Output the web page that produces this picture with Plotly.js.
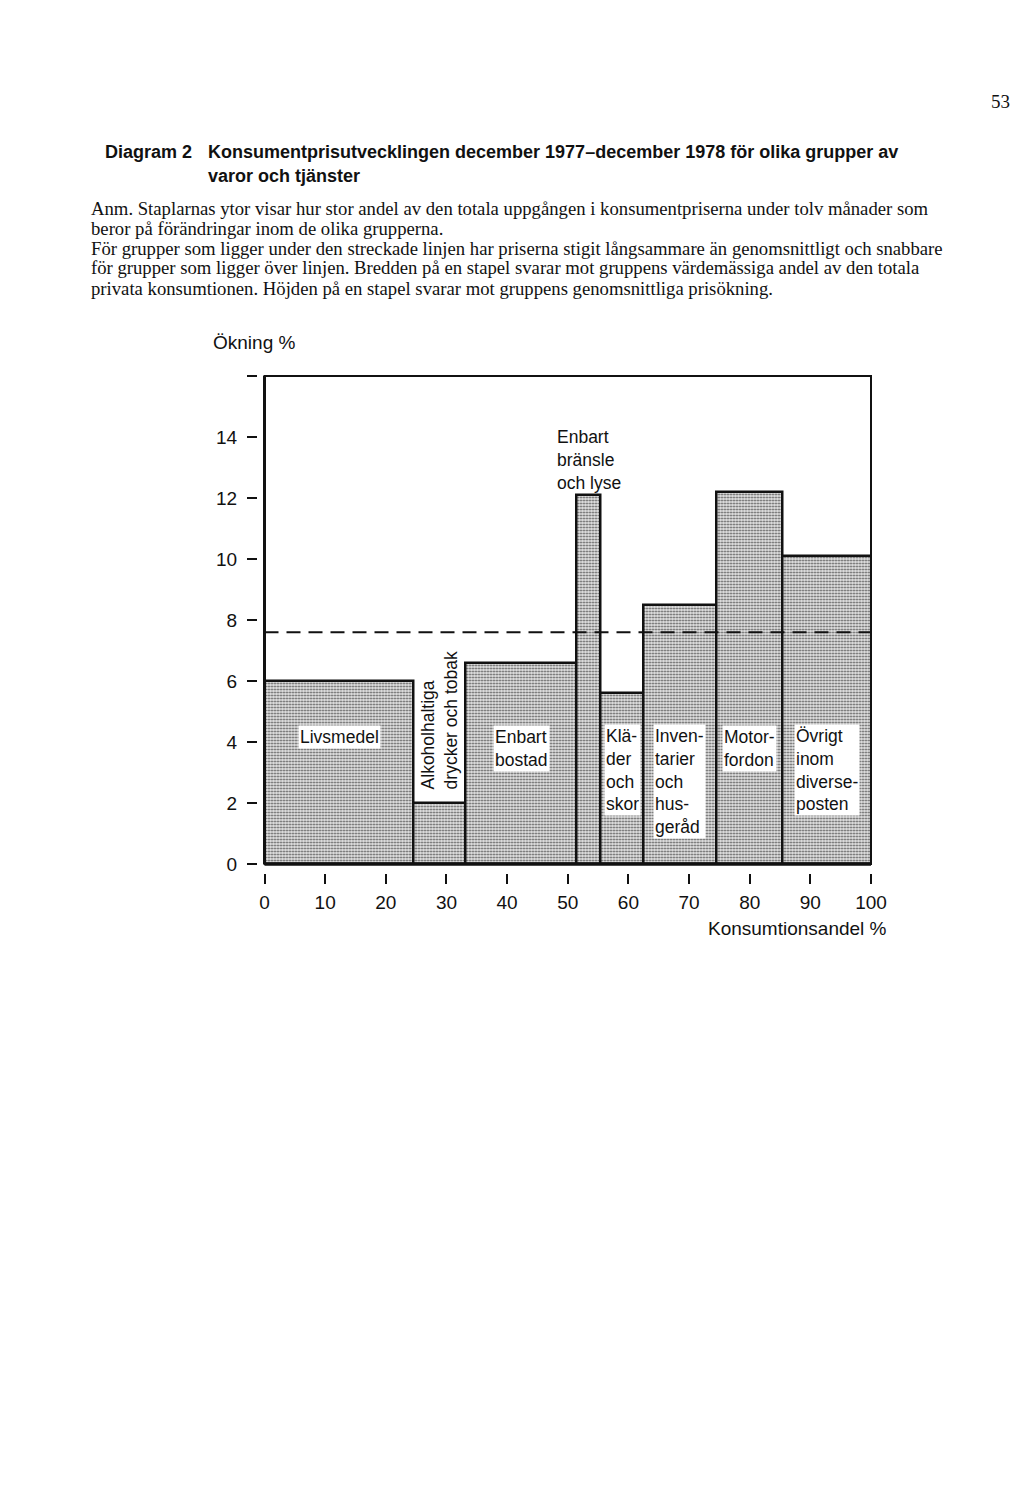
<!DOCTYPE html>
<html>
<head>
<meta charset="utf-8">
<script src="https://cdn.plot.ly/plotly-3.0.1.min.js"></script>
<style>html,body{margin:0;padding:0;background:#fff;}#chart{width:1024px;height:1486px;}</style>
</head>
<body>
<div id="chart"></div>
<script>
// ---- data ----
const categories = ['Livsmedel', 'Alkoholhaltiga drycker och tobak', 'Enbart bostad', 'Enbart bränsle och lyse',
  'Kläder och skor', 'Inventarier och husgeråd', 'Motorfordon', 'Övrigt inom diverseposten'];
const consumptionShare = [24.6, 8.6, 18.3, 3.9, 7.1, 12.0, 10.9, 14.6];   // bar widths, % of private consumption
const priceIncrease = [6.0, 2.0, 6.6, 12.1, 5.6, 8.5, 12.2, 10.1];         // bar heights, % increase
const averageIncrease = 7.6;                                                // dashed line
const barLabels = ['Livsmedel', 'Alkoholhaltiga<br>drycker och tobak', 'Enbart<br>bostad', 'Enbart<br>bränsle<br>och lyse',
  'Klä-<br>der<br>och<br>skor', 'Inven-<br>tarier<br>och<br>hus-<br>geråd', 'Motor-<br>fordon', 'Övrigt<br>inom<br>diverse-<br>posten'];
const xTickVals = [0, 10, 20, 30, 40, 50, 60, 70, 80, 90, 100];
const xTickText = ['0', '10', '20', '30', '40', '50', '60', '70', '80', '90', '100'];
const yTickVals = [0, 2, 4, 6, 8, 10, 12, 14, 16];
const yTickText = ['0', '2', '4', '6', '8', '10', '12', '14', ''];

const pageNumber = '53';
const titleLead = 'Diagram 2';
const titleLines = ['Konsumentprisutvecklingen december 1977–december 1978 för olika grupper av', 'varor och tjänster'];
const noteLines = [
  'Anm. Staplarnas ytor visar hur stor andel av den totala uppgången i konsumentpriserna under tolv månader som',
  'beror på förändringar inom de olika grupperna.',
  'För grupper som ligger under den streckade linjen har priserna stigit långsammare än genomsnittligt och snabbare',
  'för grupper som ligger över linjen. Bredden på en stapel svarar mot gruppens värdemässiga andel av den totala',
  'privata konsumtionen. Höjden på en stapel svarar mot gruppens genomsnittliga prisökning.'
];
const yAxisTitle = 'Ökning %';
const xAxisTitle = 'Konsumtionsandel %';

// ---- derived bar geometry (through the axis scale) ----
const starts = [];
let acc = 0;
consumptionShare.forEach(w => { starts.push(acc); acc += w; });
const centers = starts.map((s, i) => s + consumptionShare[i] / 2);

// ---- layout helpers (page pixels -> paper) ----
const L = 257, R = 871, T = 376, B = 873;
const px = x => (x - L) / (R - L);
const py = y => (B - y) / (B - T);

const SANS = 'Liberation Sans, Arial, sans-serif';
const SERIF = 'Liberation Serif, Times New Roman, serif';

const labelY = [4.15, 4.7, 3.8, 13.25, 3.08, 2.72, 3.79, 3.08];
const labelAngle = [0, -90, 0, 0, 0, 0, 0, 0];

const annotations = [];
barLabels.forEach((t, i) => {
  annotations.push({
    x: centers[i], y: labelY[i], xref: 'x', yref: 'y', text: t, showarrow: false,
    align: 'left', textangle: labelAngle[i],
    font: {family: SANS, size: 17.5, color: '#111'},
    bgcolor: i === 3 ? 'rgba(0,0,0,0)' : '#ffffff', borderpad: 1
  });
});
annotations.push({x: px(1000), y: py(101), xref: 'paper', yref: 'paper', text: pageNumber, showarrow: false,
  xanchor: 'center', yanchor: 'middle', font: {family: SERIF, size: 19, color: '#111'}});
annotations.push({x: px(103), y: py(152), xref: 'paper', yref: 'paper', text: '<b>' + titleLead + '</b>', showarrow: false,
  xanchor: 'left', yanchor: 'middle', font: {family: SANS, size: 18, color: '#111'}});
titleLines.forEach((t, i) => annotations.push({x: px(206), y: py(152 + 24 * i), xref: 'paper', yref: 'paper',
  text: '<b>' + t + '</b>', showarrow: false, xanchor: 'left', yanchor: 'middle',
  font: {family: SANS, size: 18, color: '#111'}}));
noteLines.forEach((t, i) => annotations.push({x: px(89), y: py(208 + 20 * i), xref: 'paper', yref: 'paper',
  text: t, showarrow: false, xanchor: 'left', yanchor: 'middle',
  font: {family: SERIF, size: 18.7, color: '#111'}}));
annotations.push({x: px(211), y: py(343), xref: 'paper', yref: 'paper', text: yAxisTitle, showarrow: false,
  xanchor: 'left', yanchor: 'middle', font: {family: SANS, size: 19, color: '#111'}});
annotations.push({x: px(889), y: py(928), xref: 'paper', yref: 'paper', text: xAxisTitle, showarrow: false,
  xanchor: 'right', yanchor: 'middle', font: {family: SANS, size: 19, color: '#111'}});

const trace = {
  type: 'bar', x: centers, y: priceIncrease, width: consumptionShare, name: 'Prisökning',
  text: categories, textposition: 'none', hoverinfo: 'x+y+text',
  marker: {
    color: '#dadada',
    line: {color: '#111', width: 2.5},
    pattern: {shape: '.', fgcolor: '#555', bgcolor: '#e6e6e6', size: 3, solidity: 0.35}
  }
};

const layout = {
  width: 1024, height: 1486,
  margin: {l: L, r: 1024 - R, t: T, b: 1486 - B, pad: 0},
  paper_bgcolor: '#fff', plot_bgcolor: '#fff',
  showlegend: false, bargap: 0,
  xaxis: {
    domain: [(264.5 - L) / (R - L), 1], range: [0, 100], anchor: 'free', position: 0,
    tickmode: 'array', tickvals: xTickVals, ticktext: xTickText,
    ticks: 'outside', ticklen: 10, tickwidth: 2, tickcolor: '#111',
    showline: false, showgrid: false, zeroline: false, ticklabelstandoff: 2,
    tickfont: {family: SANS, size: 19, color: '#111'}
  },
  yaxis: {
    domain: [(B - 864) / (B - T), 1], range: [0, 16], anchor: 'free', position: 0,
    tickmode: 'array', tickvals: yTickVals, ticktext: yTickText,
    ticks: 'outside', ticklen: 10, tickwidth: 2, tickcolor: '#111',
    showline: false, showgrid: false, zeroline: false, ticklabelstandoff: 6,
    tickfont: {family: SANS, size: 19, color: '#111'}
  },
  shapes: [
    {type: 'rect', xref: 'x domain', yref: 'y domain', x0: 0, x1: 1, y0: 0, y1: 1,
      line: {color: '#111', width: 2}, layer: 'below'},
    {type: 'line', xref: 'x domain', yref: 'y domain', x0: 0, x1: 1, y0: 0, y1: 0,
      line: {color: '#111', width: 3.5}, layer: 'above'},
    {type: 'line', xref: 'x domain', yref: 'y domain', x0: 0, x1: 0, y0: 0, y1: 1,
      line: {color: '#111', width: 3}, layer: 'above'},
    {type: 'line', xref: 'x domain', yref: 'y', x0: 0, x1: 1, y0: averageIncrease, y1: averageIncrease,
      line: {color: '#111', width: 2, dash: '14px,8px'}, layer: 'above'}
  ],
  annotations: annotations
};

Plotly.newPlot('chart', [trace], layout, {displayModeBar: false, responsive: false});
</script>
</body>
</html>
